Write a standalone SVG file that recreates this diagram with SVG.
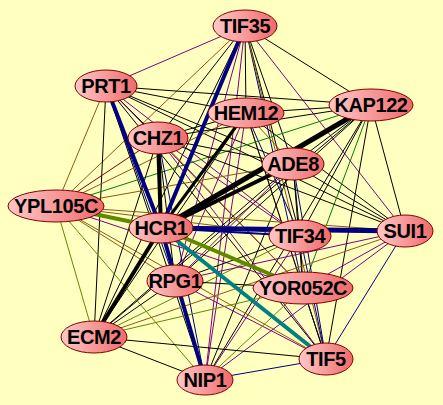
<svg xmlns="http://www.w3.org/2000/svg" width="443" height="405" viewBox="0 0 443 405">
<defs>
<linearGradient id="ng" x1="0" y1="0" x2="1" y2="0">
<stop offset="0" stop-color="#ffc8c8"/>
<stop offset="1" stop-color="#f06a6a"/>
</linearGradient>
<style>
.e line{fill:none;stroke-width:1}
.k{stroke:#000000}
.p{stroke:#800080}
.b{stroke:#8a5a10}
.g{stroke:#008000}
.o{stroke:#5f8a00}
.u{stroke:#000080}
.r{stroke:#800000}
.t{stroke:#008080}
.n ellipse{fill:url(#ng);stroke:#800000;stroke-width:1}
.n text{font-family:"Liberation Sans",Arial,sans-serif;font-weight:bold;font-size:20px;letter-spacing:-0.4px;fill:#000;text-anchor:middle}
</style>
</defs>
<rect width="443" height="405" fill="#ffffc0"/>
<g id="connectors" class="e">
<line class="p" x1="245" y1="26" x2="106" y2="86"/>
<line class="k" x1="245" y1="26" x2="246" y2="113"/>
<line class="k" x1="245" y1="26" x2="371" y2="105"/>
<line class="k" x1="245" y1="26" x2="158" y2="138"/>
<line class="k" x1="245" y1="26" x2="293" y2="164"/>
<line class="b" x1="245" y1="26" x2="56" y2="206"/>
<line class="k" x1="245" y1="26" x2="300" y2="236"/>
<line class="p" x1="245" y1="26" x2="405" y2="231"/>
<line class="p" x1="245" y1="26" x2="175" y2="281"/>
<line class="u" x1="245" y1="26" x2="303" y2="288"/>
<line class="k" x1="245" y1="26" x2="94" y2="337"/>
<line class="b" x1="245" y1="26" x2="326" y2="359"/>
<line class="p" x1="245" y1="26" x2="205" y2="380"/>
<line class="k" x1="106" y1="86" x2="246" y2="113"/>
<line class="k" x1="106" y1="86" x2="371" y2="105"/>
<line class="k" x1="106" y1="86" x2="158" y2="138"/>
<line class="k" x1="106" y1="86" x2="293" y2="164"/>
<line class="b" x1="106" y1="86" x2="56" y2="206"/>
<line class="p" x1="106" y1="86" x2="300" y2="236"/>
<line class="k" x1="106" y1="86" x2="405" y2="231"/>
<line class="u" x1="106" y1="86" x2="175" y2="281"/>
<line class="p" x1="106" y1="86" x2="303" y2="288"/>
<line class="k" x1="106" y1="86" x2="94" y2="337"/>
<line class="k" x1="106" y1="86" x2="326" y2="359"/>
<line class="k" x1="106" y1="86" x2="205" y2="380"/>
<line class="k" x1="246" y1="113" x2="371" y2="105"/>
<line class="k" x1="246" y1="113" x2="158" y2="138"/>
<line class="b" x1="246" y1="113" x2="293" y2="164"/>
<line class="b" x1="246" y1="113" x2="56" y2="206"/>
<line class="u" x1="246" y1="113" x2="300" y2="236"/>
<line class="k" x1="246" y1="113" x2="405" y2="231"/>
<line class="p" x1="246" y1="113" x2="175" y2="281"/>
<line class="b" x1="246" y1="113" x2="303" y2="288"/>
<line class="k" x1="246" y1="113" x2="94" y2="337"/>
<line class="k" x1="246" y1="113" x2="326" y2="359"/>
<line class="p" x1="246" y1="113" x2="205" y2="380"/>
<line class="k" x1="371" y1="105" x2="158" y2="138"/>
<line class="k" x1="371" y1="105" x2="293" y2="164"/>
<line class="g" x1="371" y1="105" x2="56" y2="206"/>
<line class="k" x1="371" y1="105" x2="300" y2="236"/>
<line class="k" x1="371" y1="105" x2="405" y2="231"/>
<line class="k" x1="371" y1="105" x2="175" y2="281"/>
<line class="g" x1="371" y1="105" x2="303" y2="288"/>
<line class="k" x1="371" y1="105" x2="94" y2="337"/>
<line class="k" x1="371" y1="105" x2="326" y2="359"/>
<line class="k" x1="371" y1="105" x2="205" y2="380"/>
<line class="k" x1="158" y1="138" x2="293" y2="164"/>
<line class="r" x1="158" y1="138" x2="56" y2="206"/>
<line class="p" x1="158" y1="138" x2="300" y2="236"/>
<line class="k" x1="158" y1="138" x2="405" y2="231"/>
<line class="k" x1="158" y1="138" x2="175" y2="281"/>
<line class="b" x1="158" y1="138" x2="303" y2="288"/>
<line class="k" x1="158" y1="138" x2="94" y2="337"/>
<line class="p" x1="158" y1="138" x2="326" y2="359"/>
<line class="u" x1="158" y1="138" x2="205" y2="380"/>
<line class="b" x1="293" y1="164" x2="56" y2="206"/>
<line class="k" x1="293" y1="164" x2="300" y2="236"/>
<line class="k" x1="293" y1="164" x2="405" y2="231"/>
<line class="p" x1="293" y1="164" x2="175" y2="281"/>
<line class="k" x1="293" y1="164" x2="303" y2="288"/>
<line class="k" x1="293" y1="164" x2="94" y2="337"/>
<line class="u" x1="293" y1="164" x2="326" y2="359"/>
<line class="k" x1="293" y1="164" x2="205" y2="380"/>
<line class="b" x1="56" y1="206" x2="300" y2="236"/>
<line class="b" x1="56" y1="206" x2="405" y2="231"/>
<line class="b" x1="56" y1="206" x2="175" y2="281"/>
<line class="p" x1="56" y1="206" x2="303" y2="288"/>
<line class="o" x1="56" y1="206" x2="94" y2="337"/>
<line class="b" x1="56" y1="206" x2="326" y2="359"/>
<line class="o" x1="56" y1="206" x2="205" y2="380"/>
<line class="k" x1="161" y1="228" x2="175" y2="281"/>
<line class="k" x1="300" y1="236" x2="175" y2="281"/>
<line class="k" x1="300" y1="236" x2="303" y2="288"/>
<line class="o" x1="300" y1="236" x2="94" y2="337"/>
<line class="u" x1="300" y1="236" x2="326" y2="359"/>
<line class="p" x1="300" y1="236" x2="205" y2="380"/>
<line class="p" x1="405" y1="231" x2="175" y2="281"/>
<line class="p" x1="405" y1="231" x2="303" y2="288"/>
<line class="b" x1="405" y1="231" x2="94" y2="337"/>
<line class="u" x1="405" y1="231" x2="326" y2="359"/>
<line class="p" x1="405" y1="231" x2="205" y2="380"/>
<line class="k" x1="175" y1="281" x2="303" y2="288"/>
<line class="k" x1="175" y1="281" x2="94" y2="337"/>
<line class="p" x1="175" y1="281" x2="326" y2="359"/>
<line class="p" x1="175" y1="281" x2="205" y2="380"/>
<line class="o" x1="303" y1="288" x2="94" y2="337"/>
<line class="k" x1="303" y1="288" x2="326" y2="359"/>
<line class="o" x1="303" y1="288" x2="205" y2="380"/>
<line class="k" x1="94" y1="337" x2="326" y2="359"/>
<line class="k" x1="94" y1="337" x2="205" y2="380"/>
<line class="u" x1="326" y1="359" x2="205" y2="380"/>
<line class="u" x1="161" y1="228" x2="300" y2="236" style="stroke-width:2"/>
<line class="u" x1="106" y1="86" x2="161" y2="228" style="stroke-width:4"/>
<line class="u" x1="245" y1="26" x2="161" y2="228" style="stroke-width:4"/>
<line class="u" x1="161" y1="228" x2="405" y2="231" style="stroke-width:5"/>
<line class="u" x1="161" y1="228" x2="205" y2="380" style="stroke-width:4"/>
<line class="k" x1="161" y1="228" x2="371" y2="105" style="stroke-width:5"/>
<line class="k" x1="161" y1="228" x2="293" y2="164" style="stroke-width:4"/>
<line class="k" x1="161" y1="228" x2="246" y2="113" style="stroke-width:3"/>
<line class="k" x1="161" y1="228" x2="158" y2="138" style="stroke-width:4"/>
<line class="k" x1="161" y1="228" x2="94" y2="337" style="stroke-width:4"/>
<line class="o" x1="161" y1="228" x2="56" y2="206" style="stroke-width:4"/>
<line class="o" x1="161" y1="228" x2="303" y2="288" style="stroke-width:4"/>
<line class="t" x1="161" y1="228" x2="326" y2="359" style="stroke-width:4"/>
</g>
<g id="TIF35" class="n"><ellipse cx="245" cy="26" rx="32" ry="16"/><text x="245" y="33">TIF35</text></g>
<g id="PRT1" class="n"><ellipse cx="106" cy="86" rx="31" ry="16"/><text x="106" y="93">PRT1</text></g>
<g id="HEM12" class="n"><ellipse cx="246" cy="113" rx="38" ry="15"/><text x="246" y="120">HEM12</text></g>
<g id="KAP122" class="n"><ellipse cx="371" cy="105" rx="42" ry="16"/><text x="371" y="112">KAP122</text></g>
<g id="CHZ1" class="n"><ellipse cx="158" cy="138" rx="30" ry="16"/><text x="158" y="145">CHZ1</text></g>
<g id="ADE8" class="n"><ellipse cx="293" cy="164" rx="31" ry="16"/><text x="293" y="171">ADE8</text></g>
<g id="YPL105C" class="n"><ellipse cx="56" cy="206" rx="48" ry="16"/><text x="56" y="213">YPL105C</text></g>
<g id="HCR1" class="n"><ellipse cx="161" cy="228" rx="32" ry="15"/><text x="161" y="235">HCR1</text></g>
<g id="TIF34" class="n"><ellipse cx="300" cy="236" rx="31" ry="16"/><text x="300" y="243">TIF34</text></g>
<g id="SUI1" class="n"><ellipse cx="405" cy="231" rx="28" ry="16"/><text x="405" y="238">SUI1</text></g>
<g id="RPG1" class="n"><ellipse cx="175" cy="281" rx="28" ry="16"/><text x="175" y="288">RPG1</text></g>
<g id="YOR052C" class="n"><ellipse cx="303" cy="288" rx="50" ry="16"/><text x="303" y="295">YOR052C</text></g>
<g id="ECM2" class="n"><ellipse cx="94" cy="337" rx="33" ry="16"/><text x="94" y="344">ECM2</text></g>
<g id="TIF5" class="n"><ellipse cx="326" cy="359" rx="27" ry="16"/><text x="326" y="366">TIF5</text></g>
<g id="NIP1" class="n"><ellipse cx="205" cy="380" rx="28" ry="15"/><text x="205" y="387">NIP1</text></g>
</svg>
